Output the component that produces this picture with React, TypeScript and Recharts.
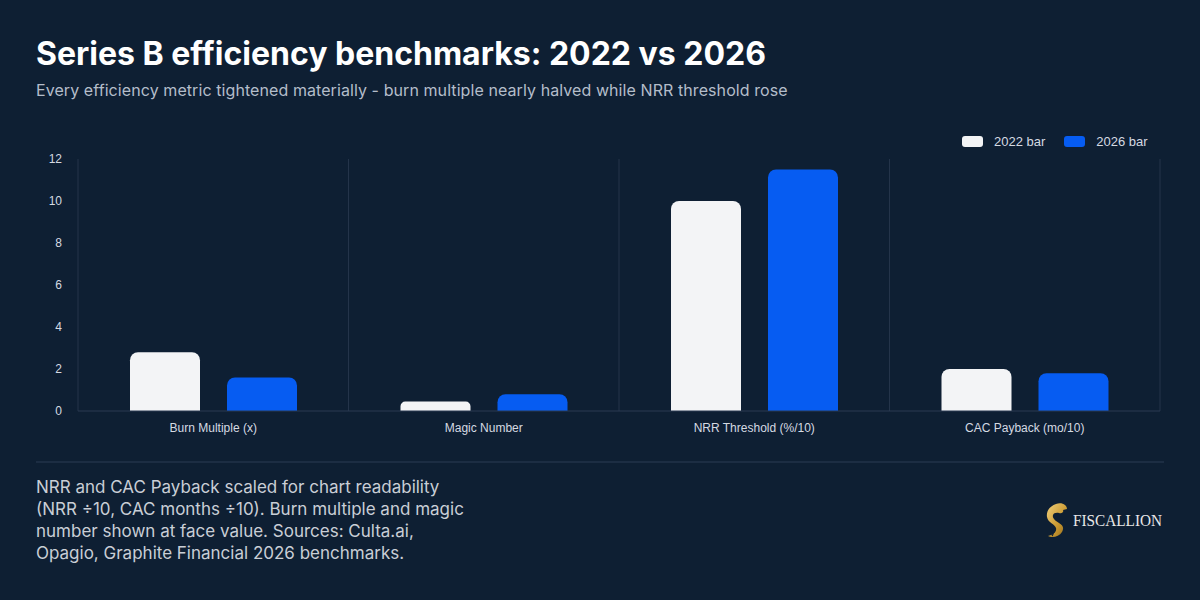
import { Bar, BarChart, CartesianGrid, XAxis, YAxis } from 'recharts';

const metrics = ['Burn Multiple (x)', 'Magic Number', 'NRR Threshold (%/10)', 'CAC Payback (mo/10)'];
const values2022 = [2.8, 0.45, 10, 2.0];
const values2026 = [1.6, 0.8, 11.5, 1.8];
const yTicks = [0, 2, 4, 6, 8, 10, 12];
const seriesLabels = ['2022 bar', '2026 bar'];

const BG = '#0e1f33';
const GRID = '#24344a';
const WHITE_BAR = '#f3f4f6';
const BLUE_BAR = '#065cf2';
const FONT = 'Inter, "Noto Sans", sans-serif';
const CHART_FONT = '"Liberation Sans", Arial, sans-serif';

const data = metrics.map((name, i) => ({ name, y2022: values2022[i], y2026: values2026[i] }));

const footerLines = [
  'NRR and CAC Payback scaled for chart readability',
  '(NRR ÷10, CAC months ÷10). Burn multiple and magic',
  'number shown at face value. Sources: Culta.ai,',
  'Opagio, Graphite Financial 2026 benchmarks.',
];

function LegendBox() {
  const colors = [WHITE_BAR, BLUE_BAR];
  return (
    <div style={{ display: 'flex', gap: 19, fontFamily: CHART_FONT, fontSize: 13, color: '#d5dae2' }}>
      {seriesLabels.map((label, i) => (
        <div key={label} style={{ display: 'flex', alignItems: 'center', gap: 11 }}>
          <span style={{ width: 21, height: 11, borderRadius: 3, background: colors[i], display: 'inline-block' }} />
          <span>{label}</span>
        </div>
      ))}
    </div>
  );
}

function Logo() {
  return (
    <svg width={130} height={40} viewBox="0 0 130 40">
      <defs>
        <linearGradient id="gold" x1="0" y1="0" x2="1" y2="1">
          <stop offset="0%" stopColor="#f0cf7c" />
          <stop offset="60%" stopColor="#c9982f" />
          <stop offset="100%" stopColor="#8f6a1f" />
        </linearGradient>
      </defs>
      {/* horse head shaped into an S */}
      <path
        d="M14 4 C20 2 25 5 25 9 L21 10 C22 12 20 14 17 13 C12 12 9 15 12 19 C16 24 24 24 20 32 C17 37 10 38 6 36 C11 35 15 32 14 28 C13 24 6 23 5 17 C4 11 8 6 14 4 Z"
        fill="url(#gold)"
      />
      <path d="M9 30 C11 32 12 34 10 36" stroke={BG} strokeWidth={1.2} fill="none" />
      <text
        x={31}
        y={26}
        fontFamily='"Liberation Serif", "DejaVu Serif", serif'
        fontSize={17}
        fill="#e8e8e8"
        textLength={89}
        lengthAdjust="spacingAndGlyphs"
      >
        FISCALLION
      </text>
    </svg>
  );
}

export default function App() {
  return (
    <div style={{ position: 'absolute', left: 0, top: 0, width: 1200, height: 600, background: BG, overflow: 'hidden' }}>
      <div style={{ position: 'absolute', left: 36, top: 34, fontFamily: FONT, fontWeight: 700, fontSize: 32, color: '#ffffff' }}>
        Series B efficiency benchmarks: 2022 vs 2026
      </div>
      <div style={{ position: 'absolute', left: 36, top: 80, fontFamily: FONT, fontSize: 16, letterSpacing: 0.08, color: '#b4bdca' }}>
        Every efficiency metric tightened materially - burn multiple nearly halved while NRR threshold rose
      </div>

      <div style={{ position: 'absolute', left: 962, top: 134 }}>
        <LegendBox />
      </div>

      <div style={{ position: 'absolute', left: 0, top: 0 }}>
        <BarChart
          width={1200}
          height={450}
          data={data}
          margin={{ top: 159, right: 40, bottom: 0, left: 0 }}
          barSize={70}
          barGap={27}
        >
          <CartesianGrid
            horizontal={false}
            stroke={GRID}
            verticalCoordinatesGenerator={({ offset }: any) =>
              [0, 1, 2, 3, 4].map((i) => offset.left + (offset.width * i) / 4)
            }
          />
          <XAxis
            dataKey="name"
            axisLine={{ stroke: '#2a3a52' }}
            tickLine={false}
            tickSize={0}
            tickMargin={12}
            height={39}
            tick={{ fontSize: 12, fill: '#d5dae2', fontFamily: CHART_FONT }}
            interval={0}
          />
          <YAxis
            domain={[0, 12]}
            ticks={yTicks}
            width={78}
            axisLine={false}
            tickLine={false}
            tickSize={0}
            tickMargin={16}
            tick={{ fontSize: 12, fill: '#d5dae2', fontFamily: CHART_FONT }}
          />
          <Bar dataKey="y2022" name={seriesLabels[0]} fill={WHITE_BAR} radius={[8, 8, 0, 0]} isAnimationActive={false} />
          <Bar dataKey="y2026" name={seriesLabels[1]} fill={BLUE_BAR} radius={[8, 8, 0, 0]} isAnimationActive={false} />
        </BarChart>
      </div>

      <div style={{ position: 'absolute', left: 36, top: 461, width: 1128, height: 2, background: '#1c2d43' }} />

      <div style={{ position: 'absolute', left: 36, top: 476, fontFamily: FONT, fontSize: 17, lineHeight: '22px', color: '#c9ced6' }}>
        {footerLines.map((l) => (
          <div key={l}>{l}</div>
        ))}
      </div>

      <div style={{ position: 'absolute', left: 1042, top: 500 }}>
        <Logo />
      </div>
    </div>
  );
}
